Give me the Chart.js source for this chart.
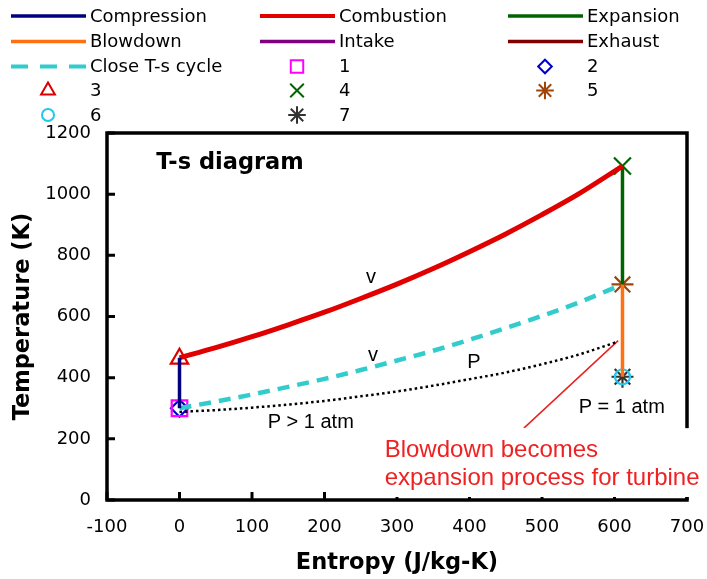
<!DOCTYPE html>
<html lang="en">
<head>
<meta charset="UTF-8">
<title>T-s diagram</title>
<script src="https://cdn.jsdelivr.net/npm/chart.js"></script>
<style>
    html, body { margin: 0; padding: 0; background: #fff; }
</style>
</head>
<body>
<canvas id="tsChart" width="707" height="579"></canvas>
<script>
    // values: entropy s (J/kg-K), temperature T (K)
    const combS  = [0, 50, 100, 150, 200, 250, 300, 350, 400, 450, 500, 550, 611];
    const combT  = [465, 498, 534, 573, 614, 659, 706, 757, 812, 870, 933, 1000, 1092];
    const closeS = [0, 50, 100, 150, 200, 250, 300, 350, 400, 450, 500, 550, 611];
    const closeT = [300, 322, 345, 370, 396, 425, 456, 488, 524, 562, 602, 645, 705];
    const presS  = [0, 50, 100, 150, 200, 250, 300, 350, 400, 450, 500, 550, 605];
    const presT  = [288, 294, 302, 312, 324, 339, 355, 374, 395, 417, 444, 475, 518];
    const compS = [0, 0],     compT = [300, 465];
    const expS  = [611, 611], expT  = [1092, 705];
    const blowS = [611, 611], blowT = [705, 403];
    const intkS = [611, 611], intkT = [403, 403];
    const exhS  = [611, 611], exhT  = [403, 403];
    const arrowS = [475, 605], arrowT = [235, 521];
    const stateLabels = ['1', '2', '3', '4', '5', '6', '7'];
    const stateS = [0, 0, 0, 611, 611, 611, 611];
    const stateT = [300, 300, 462, 1092, 705, 403, 403];
    const xTicks = [-100, 0, 100, 200, 300, 400, 500, 600, 700];
    const yTicks = [0, 200, 400, 600, 800, 1000, 1200];

    const pts = (s, t) => s.map((v, i) => ({ x: v, y: t[i] }));

    function line(label, s, t, color, width, dash, legend) {
        return {
            label: label, data: pts(s, t), borderColor: color, borderWidth: width,
            borderDash: dash || [], pointRadius: 0, showLine: true,
            tension: 0.4, cubicInterpolationMode: 'monotone', fill: false,
            inLegend: legend !== false
        };
    }

    const stateStyle = [
        { color: '#ff00ff', style: 'rect',     r: 11 },
        { color: '#0000cc', style: 'rectRot',  r: 8.5 },
        { color: '#dd0000', style: 'triangle', r: 10 },
        { color: '#006400', style: 'crossRot', r: 12 },
        { color: '#a0450a', style: 'star',     r: 11 },
        { color: '#1ec8f0', style: 'circle',   r: 7.5 },
        { color: '#333333', style: 'star',     r: 11 }
    ];

    const datasets = [
        line('Compression', compS, compT, '#000080', 3.5),
        line('Combustion', combS, combT, '#e00000', 5),
        line('Expansion', expS, expT, '#006400', 3.5),
        line('Blowdown', blowS, blowT, '#ff7010', 3.5),
        line('Intake', intkS, intkT, '#800080', 3.5),
        line('Exhaust', exhS, exhT, '#800000', 3.5),
        line('Close T-s cycle', closeS, closeT, '#33cccc', 4.5, [12, 8]),
        line('P', presS, presT, '#000000', 2.5, [2.5, 3], false),
        line('pointer', arrowS, arrowT, '#e8221f', 1.5, [], false)
    ];
    datasets[8].tension = 0;
    stateLabels.forEach((lab, i) => {
        const st = stateStyle[i];
        datasets.push({
            label: lab, data: [{ x: stateS[i], y: stateT[i] }], showLine: false,
            pointStyle: st.style, pointRadius: st.r, pointBorderColor: st.color,
            pointBackgroundColor: 'rgba(0,0,0,0)', pointBorderWidth: 2.2,
            borderColor: st.color, inLegend: true
        });
    });

    // text placed in data coordinates
    const notes = [
        { text: 'T-s diagram', s: -32, T: 1102, font: 'bold 22.5px "DejaVu Sans"', align: 'left' },
        { text: 'v', s: 264, T: 729, font: '20px "Liberation Sans"', align: 'center' },
        { text: 'v', s: 267, T: 474, font: '20px "Liberation Sans"', align: 'center' },
        { text: 'P', s: 406, T: 451, font: '20px "Liberation Sans"', align: 'center' },
        { text: 'P > 1 atm', s: 181, T: 255, font: '20px "Liberation Sans"', align: 'center' },
        { text: 'P = 1 atm', s: 610, T: 304, font: '20px "Liberation Sans"', align: 'center' }
    ];
    const redNote = { lines: ['Blowdown becomes', 'expansion process for turbine'], s: 283, T: [163, 72] };

    const framePlugin = {
        id: 'frame',
        beforeDatasetsDraw(chart) {
            const { ctx, chartArea: a, scales: { x, y } } = chart;
            ctx.save();
            ctx.strokeStyle = '#000';
            ctx.lineWidth = 3.5;
            ctx.strokeRect(a.left, a.top, a.right - a.left, a.bottom - a.top);
            ctx.lineWidth = 3;
            ctx.beginPath();
            x.ticks.forEach(t => {
                const px = x.getPixelForValue(t.value);
                ctx.moveTo(px, a.bottom); ctx.lineTo(px, a.bottom - 8);
            });
            y.ticks.forEach(t => {
                const py = y.getPixelForValue(t.value);
                ctx.moveTo(a.left, py); ctx.lineTo(a.left + 8, py);
            });
            ctx.stroke();
            ctx.restore();
        },
        afterDatasetsDraw(chart) {
            const { ctx, scales: { x, y } } = chart;
            ctx.save();
            ctx.fillStyle = '#000';
            ctx.textBaseline = 'middle';
            notes.forEach(n => {
                ctx.font = n.font;
                ctx.textAlign = n.align;
                ctx.fillText(n.text, x.getPixelForValue(n.s), y.getPixelForValue(n.T));
            });
            // red note sits on a white box that hides part of the frame
            ctx.font = '24px "Liberation Sans"';
            ctx.textAlign = 'left';
            const left = x.getPixelForValue(redNote.s);
            const y1 = y.getPixelForValue(redNote.T[0]), y2 = y.getPixelForValue(redNote.T[1]);
            const w = Math.max(...redNote.lines.map(l => ctx.measureText(l).width));
            ctx.fillStyle = '#fff';
            ctx.fillRect(left - 3, y1 - 22, w + 8, y2 - y1 + 41);
            ctx.fillStyle = '#ee2222';
            ctx.fillText(redNote.lines[0], left, y1);
            ctx.fillText(redNote.lines[1], left, y2);
            ctx.restore();
        }
    };

    const legendPlugin = {
        id: 'gridLegend',
        afterDraw(chart) {
            const ctx = chart.ctx;
            const colX = [11, 260, 508];
            const rowY = [16, 41.5, 66.5, 90.5, 115];
            const items = chart.data.datasets.filter(d => d.inLegend);
            ctx.save();
            items.forEach((d, i) => {
                const cx = colX[i % 3], cy = rowY[Math.floor(i / 3)];
                if (d.showLine) {
                    ctx.strokeStyle = d.borderColor;
                    ctx.lineWidth = Math.min(d.borderWidth, 4);
                    ctx.setLineDash(d.borderDash.length ? [17, 12] : []);
                    ctx.beginPath();
                    ctx.moveTo(cx, cy); ctx.lineTo(cx + 75, cy);
                    ctx.stroke();
                    ctx.setLineDash([]);
                } else if (Chart.helpers && Chart.helpers.drawPoint) {
                    ctx.strokeStyle = d.pointBorderColor;
                    ctx.fillStyle = 'rgba(0,0,0,0)';
                    ctx.lineWidth = 2;
                    Chart.helpers.drawPoint(ctx, { pointStyle: d.pointStyle, radius: d.pointRadius * 0.8, rotation: 0, borderWidth: 2 }, cx + 37, cy);
                }
                ctx.fillStyle = '#000';
                ctx.font = '18px "DejaVu Sans"';
                ctx.textAlign = 'left';
                ctx.textBaseline = 'middle';
                ctx.fillText(d.label, cx + 79, cy + 1);
            });
            ctx.restore();
        }
    };

    new Chart(document.getElementById('tsChart'), {
        type: 'scatter',
        data: { datasets: datasets },
        options: {
            responsive: false,
            animation: false,
            events: [],
            layout: { padding: { top: 133, right: 20, left: 0, bottom: 0 } },
            plugins: { legend: { display: false }, tooltip: { enabled: false } },
            scales: {
                x: {
                    type: 'linear', min: -100, max: 700,
                    afterBuildTicks: s => { s.ticks = xTicks.map(v => ({ value: v })); },
                    afterFit: s => { s.height = 79; s.paddingLeft = 0; s.paddingRight = 0; },
                    grid: { display: false, drawTicks: false },
                    border: { display: false },
                    ticks: {
                        font: { family: 'DejaVu Sans', size: 18 }, color: '#000', padding: 17,
                        callback: v => String(v)
                    },
                    title: {
                        display: true, text: 'Entropy (J/kg-K)', color: '#000',
                        font: { family: 'DejaVu Sans', size: 22.5, weight: 'bold' },
                        padding: { top: 4, bottom: 2 }
                    }
                },
                y: {
                    type: 'linear', min: 0, max: 1200,
                    afterBuildTicks: s => { s.ticks = yTicks.map(v => ({ value: v })); },
                    afterFit: s => { s.width = 107; s.paddingTop = 0; s.paddingBottom = 0; },
                    grid: { display: false, drawTicks: false },
                    border: { display: false },
                    ticks: {
                        font: { family: 'DejaVu Sans', size: 18 }, color: '#000', padding: 16,
                        callback: v => String(v)
                    },
                    title: {
                        display: true, text: 'Temperature (K)', color: '#000',
                        font: { family: 'DejaVu Sans', size: 22.5, weight: 'bold' },
                        padding: { top: 10, bottom: 0 }
                    }
                }
            }
        },
        plugins: [framePlugin, legendPlugin]
    });
</script>
</body>
</html>
